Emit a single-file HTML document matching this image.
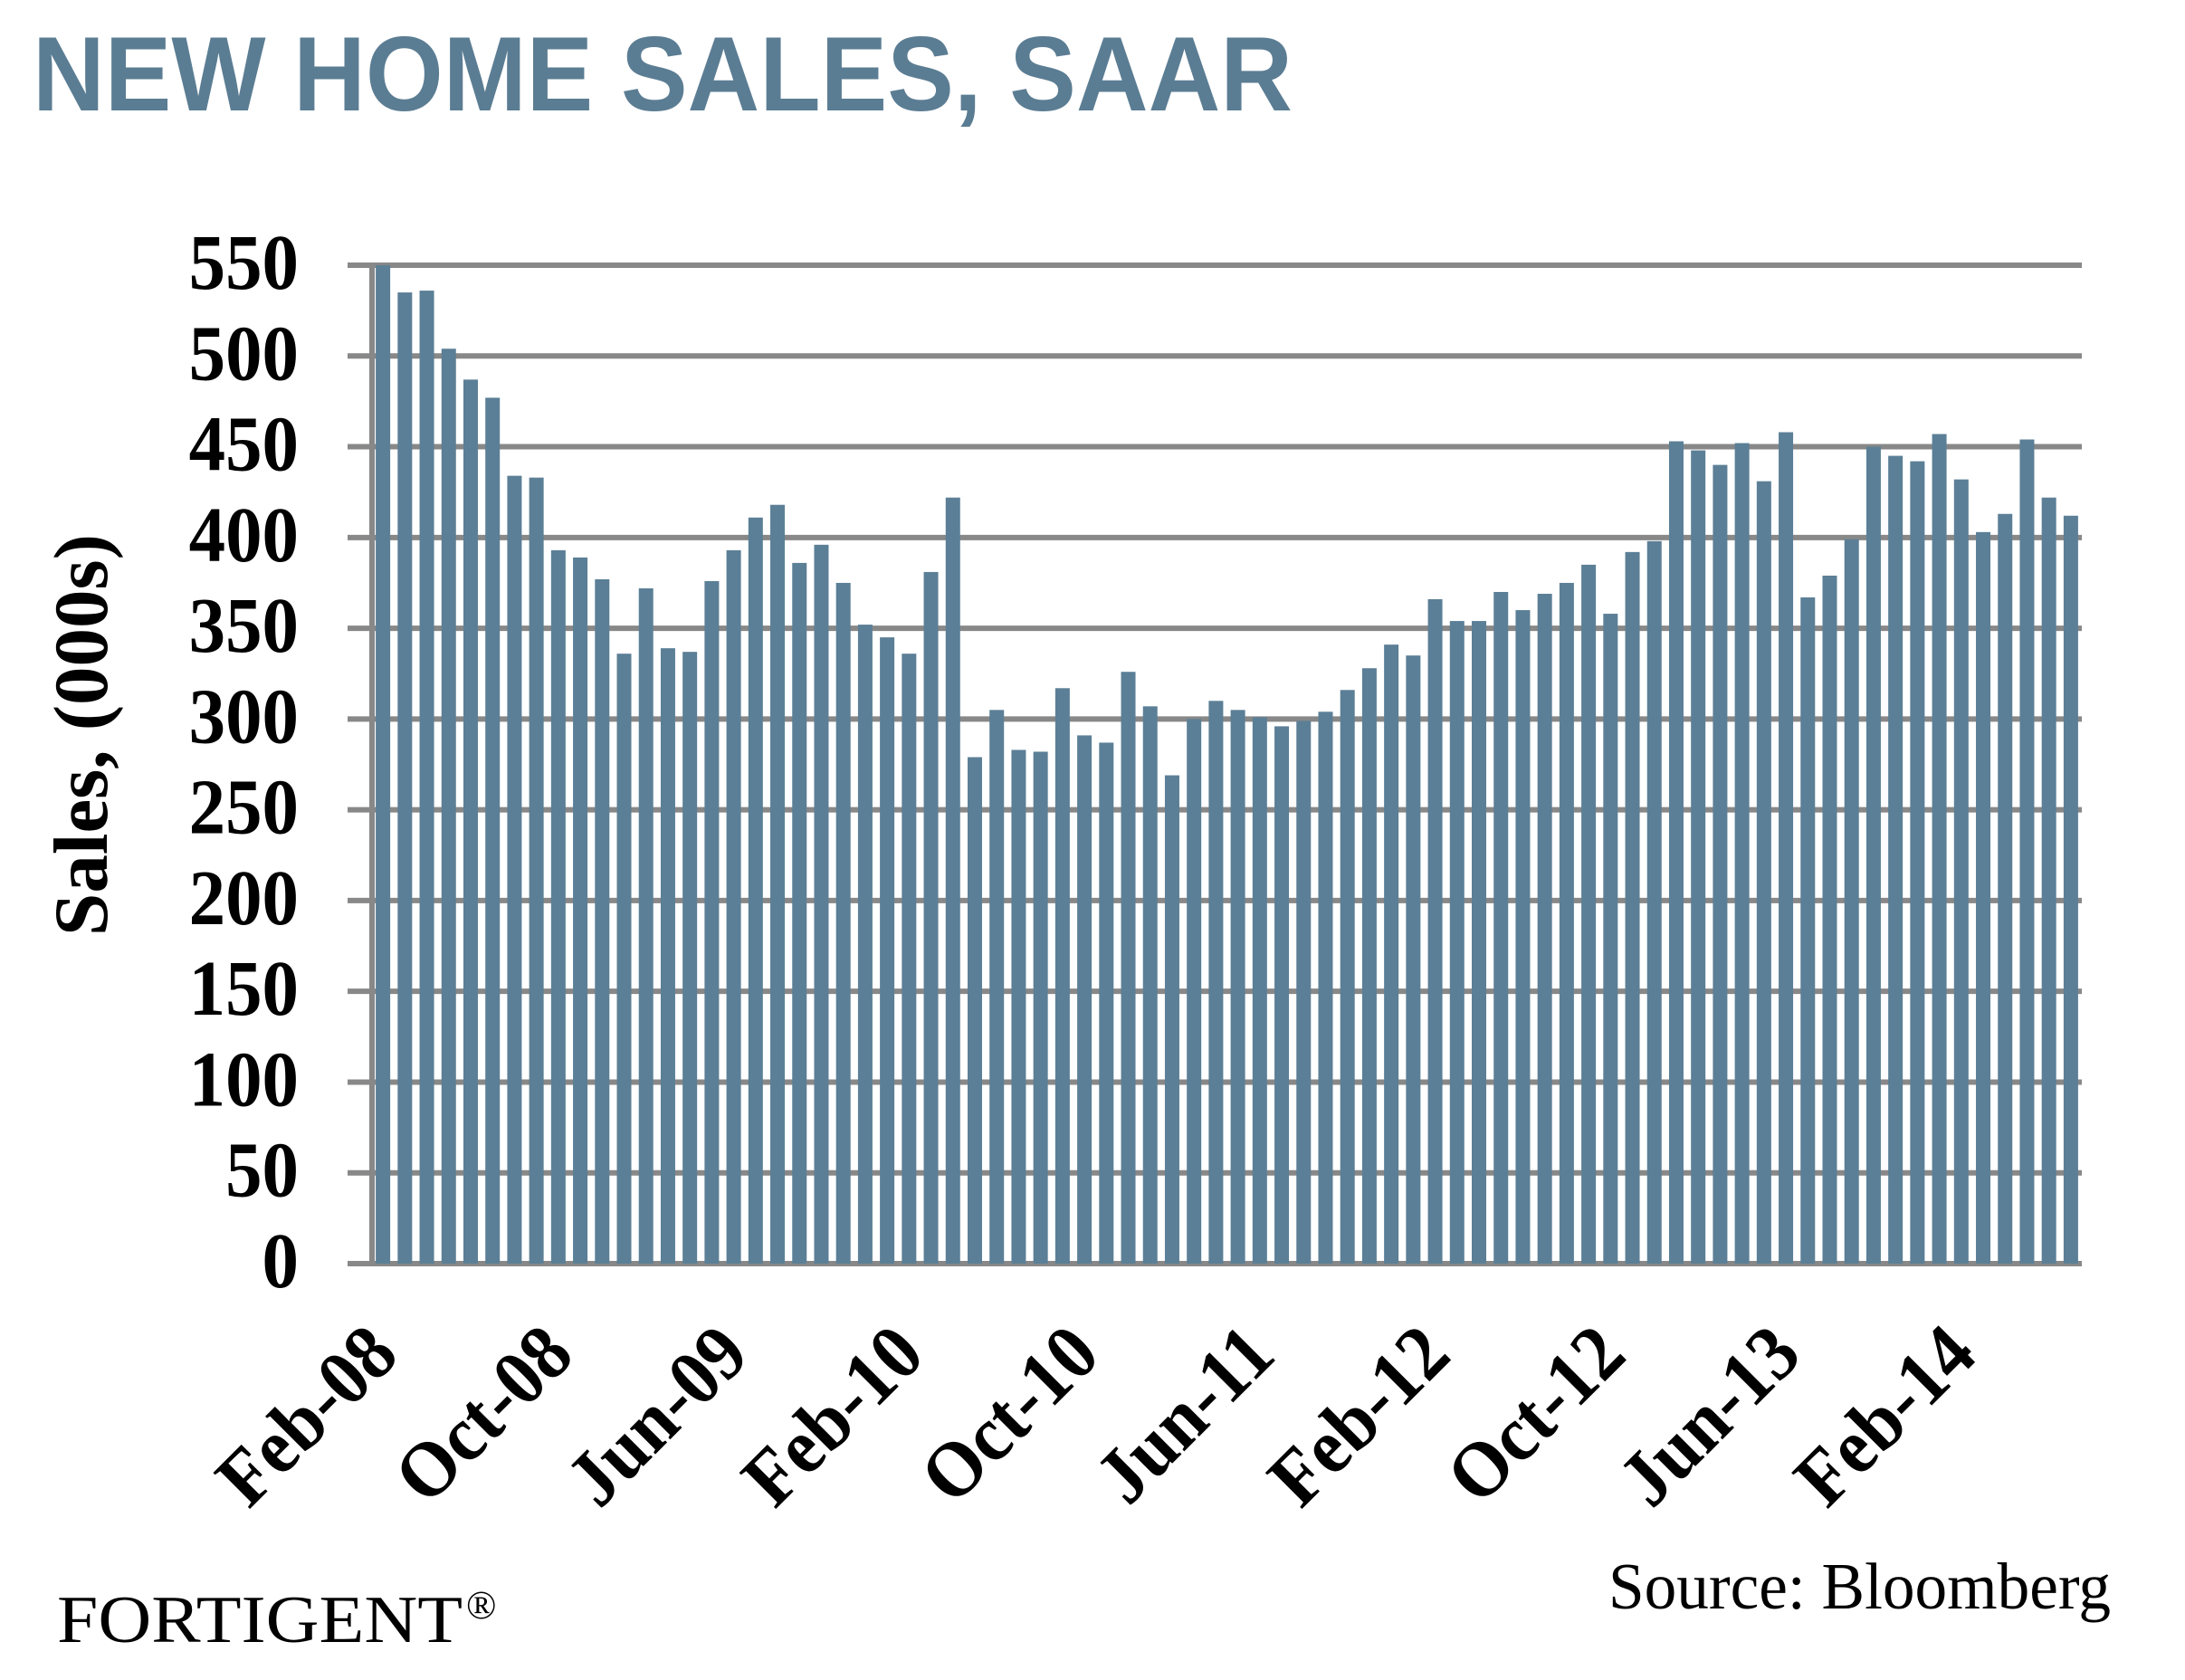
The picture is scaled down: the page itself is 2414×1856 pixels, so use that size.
<!DOCTYPE html>
<html>
<head>
<meta charset="utf-8">
<style>
  html,body{margin:0;padding:0;background:#fff;}
  svg{display:block;}
</style>
</head>
<body>
<svg id="chart" width="2414" height="1856" viewBox="0 0 2414 1856" xmlns="http://www.w3.org/2000/svg">
  <rect x="0" y="0" width="2414" height="1856" fill="#ffffff"/>
  <text x="36" y="122" font-family="Liberation Sans, Arial, sans-serif" font-weight="bold" font-size="117" fill="#5b7d93" textLength="1392" lengthAdjust="spacingAndGlyphs">NEW HOME SALES, SAAR</text>
  <g id="grid"></g>
  <g id="bars"></g>
  <g id="axes"></g>
  <g id="yticks"></g>
  <g id="xticks"></g>
  <text transform="translate(118,812) rotate(-90)" text-anchor="middle" font-family="Liberation Serif, serif" font-weight="bold" font-size="85" fill="#000">Sales, (000s)</text>
  <text x="63" y="1814" font-family="Liberation Serif, serif" font-size="74" fill="#000" textLength="448" lengthAdjust="spacingAndGlyphs">FORTIGENT</text>
  <text x="515" y="1788" font-family="Liberation Serif, serif" font-size="44" fill="#000">®</text>
  <text x="1777" y="1777" font-family="Liberation Serif, serif" font-size="73" fill="#000" textLength="555" lengthAdjust="spacingAndGlyphs">Source: Bloomberg</text>
</svg>
<script>
const months = ["Feb-08","Mar-08","Apr-08","May-08","Jun-08","Jul-08","Aug-08","Sep-08","Oct-08","Nov-08","Dec-08","Jan-09","Feb-09","Mar-09","Apr-09","May-09","Jun-09","Jul-09","Aug-09","Sep-09","Oct-09","Nov-09","Dec-09","Jan-10","Feb-10","Mar-10","Apr-10","May-10","Jun-10","Jul-10","Aug-10","Sep-10","Oct-10","Nov-10","Dec-10","Jan-11","Feb-11","Mar-11","Apr-11","May-11","Jun-11","Jul-11","Aug-11","Sep-11","Oct-11","Nov-11","Dec-11","Jan-12","Feb-12","Mar-12","Apr-12","May-12","Jun-12","Jul-12","Aug-12","Sep-12","Oct-12","Nov-12","Dec-12","Jan-13","Feb-13","Mar-13","Apr-13","May-13","Jun-13","Jul-13","Aug-13","Sep-13","Oct-13","Nov-13","Dec-13","Jan-14","Feb-14","Mar-14","Apr-14","May-14","Jun-14","Jul-14"];
const sales = [550,535,536,504,487,477,434,433,393,389,377,336,372,339,337,376,393,411,418,386,396,375,352,345,336,381,422,279,305,283,282,317,291,287,326,307,269,300,310,305,301,296,299,304,316,328,341,335,366,354,354,370,360,369,375,385,358,392,398,453,448,440,452,431,458,367,379,399,450,445,442,457,432,403,413,454,422,412];
const yTicks = [0,50,100,150,200,250,300,350,400,450,500,550];
const xTickLabels = ["Feb-08","Oct-08","Jun-09","Feb-10","Oct-10","Jun-11","Feb-12","Oct-12","Jun-13","Feb-14"];

const NS = "http://www.w3.org/2000/svg";
const plotL = 411, plotR = 2300, plotT = 293, plotB = 1396, yMax = 550;
const step = (plotR - plotL) / months.length;
function yScale(v){ return plotB - v * (plotB - plotT) / yMax; }
function xScale(i){ return plotL + i * step; }

const grid = document.getElementById('grid');
yTicks.forEach(function(t){
  const ln = document.createElementNS(NS,'line');
  ln.setAttribute('x1',384); ln.setAttribute('x2',plotR);
  ln.setAttribute('y1',yScale(t)); ln.setAttribute('y2',yScale(t));
  ln.setAttribute('stroke','#888888'); ln.setAttribute('stroke-width',6);
  
  
  grid.appendChild(ln);
});

const bars = document.getElementById('bars');
sales.forEach(function(v,i){
  const r = document.createElementNS(NS,'rect');
  r.setAttribute('x', xScale(i) + (step - 16)/2);
  r.setAttribute('y', yScale(v));
  r.setAttribute('width', 16);
  r.setAttribute('height', yScale(0) - yScale(v));
  r.setAttribute('fill', '#5b7f96');
  
  
  bars.appendChild(r);
});

const axes = document.getElementById('axes');
const yAxis = document.createElementNS(NS,'line');
yAxis.setAttribute('x1',plotL); yAxis.setAttribute('x2',plotL);
yAxis.setAttribute('y1',plotT-3); yAxis.setAttribute('y2',plotB+3);
yAxis.setAttribute('stroke','#888888'); yAxis.setAttribute('stroke-width',6);


axes.appendChild(yAxis);

const yt = document.getElementById('yticks');
yTicks.forEach(function(t){
  const tx = document.createElementNS(NS,'text');
  tx.setAttribute('transform','translate(330,' + (yScale(t) + 26) + ') scale(0.93,1)');
  tx.setAttribute('text-anchor','end');
  tx.setAttribute('font-family','Liberation Serif, serif');
  tx.setAttribute('font-weight','bold');
  tx.setAttribute('font-size','87');
  tx.setAttribute('fill','#000');
  tx.textContent = String(t);
  
  
  yt.appendChild(tx);
});

const xt = document.getElementById('xticks');
xTickLabels.forEach(function(lab){
  const i = months.indexOf(lab);
  const cx = xScale(i) + step/2;
  const tx = document.createElementNS(NS,'text');
  tx.setAttribute('transform','translate(' + (cx + 20) + ',1500) rotate(-45) scale(0.93,1)');
  tx.setAttribute('text-anchor','end');
  tx.setAttribute('font-family','Liberation Serif, serif');
  tx.setAttribute('font-weight','bold');
  tx.setAttribute('font-size','87');
  tx.setAttribute('fill','#000');
  tx.textContent = lab;
  
  
  xt.appendChild(tx);
});
</script>
</body>
</html>
